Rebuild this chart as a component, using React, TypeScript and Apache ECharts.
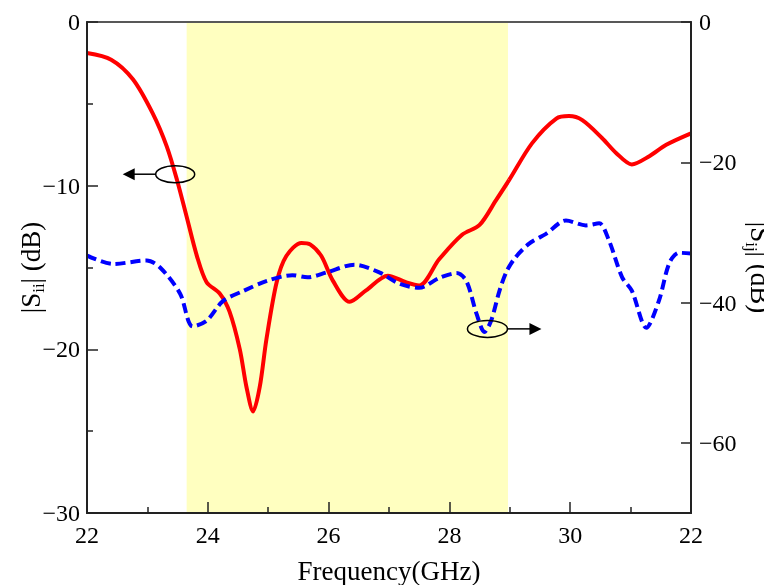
import React, { useEffect, useRef } from 'react';
import * as echarts from 'echarts';

// |Sii| (left axis, dB) — frequency in GHz
const redData: [number, number][] = [
  [22.0, -1.9], [22.4, -2.3], [22.76, -3.5], [23.09, -5.6], [23.32, -7.6], [23.49, -9.65],
  [23.65, -11.9], [23.82, -14.3], [23.98, -15.9], [24.2, -16.6], [24.36, -17.7], [24.53, -20.0],
  [24.64, -22.3], [24.75, -23.8], [24.86, -22.3], [24.97, -19.4], [25.14, -15.9], [25.3, -14.3],
  [25.55, -13.5], [25.7, -13.6], [25.88, -14.3], [26.07, -15.8], [26.35, -17.1], [26.62, -16.4],
  [26.98, -15.5], [27.28, -15.9], [27.5, -16.1], [27.83, -14.5], [28.21, -13.0], [28.5, -12.4],
  [28.77, -10.9], [28.99, -9.65], [29.37, -7.4], [29.77, -5.9], [29.98, -5.75], [30.2, -6.0],
  [30.53, -7.1], [30.76, -8.0], [31.02, -8.7], [31.31, -8.2], [31.59, -7.5], [32.0, -6.8],
];

// |Sij| (right axis, dB)
const blueData: [number, number][] = [
  [22.0, -33.3], [22.43, -34.5], [22.99, -34.0], [23.21, -35.0], [23.54, -38.7], [23.75, -43.4],
  [23.98, -42.6], [24.25, -39.8], [24.6, -38.3], [24.98, -36.9], [25.4, -36.1], [25.65, -36.4],
  [25.97, -35.7], [26.43, -34.6], [26.84, -35.7], [27.17, -37.3], [27.5, -37.9], [27.83, -36.5],
  [28.12, -35.8], [28.28, -36.9], [28.45, -41.6], [28.58, -44.2], [28.69, -42.6], [28.83, -38.3],
  [28.95, -35.5], [29.1, -33.5], [29.32, -31.6], [29.6, -30.2], [29.93, -28.3], [30.26, -29.0],
  [30.48, -28.7], [30.64, -31.1], [30.86, -36.4], [31.02, -38.3], [31.26, -43.6], [31.47, -39.7],
  [31.64, -34.4], [31.8, -32.9], [32.0, -33.0],
];

const band: [number, number] = [23.65, 28.97];
const rightTicks = [0, -20, -40, -60];
// annotation anchors: [freq, left-axis dB]
const leftMarker: [number, number] = [23.46, -9.3];
const rightMarker: [number, number] = [28.63, -18.75];

const FONT = "'Liberation Serif', 'Times New Roman', serif";
const AX = '#222';

const minus = (v: number) => String(v).replace('-', '\u2212');

export default function App() {
  const ref = useRef<HTMLDivElement>(null);
  useEffect(() => {
    if (!ref.current) return;
    const chart = echarts.init(ref.current, undefined, { renderer: 'svg' });
    const labelStyle = { fontFamily: FONT, fontSize: 24, color: '#000' };
    const nameStyle = {
      fontFamily: FONT,
      fontSize: 27,
      color: '#000',
      rich: { sub: { fontFamily: FONT, fontSize: 17, color: '#000', padding: [16, 0, 0, 0] } },
    };
    chart.setOption({
      animation: false,
      grid: {
        left: 87, right: 73, top: 22, bottom: 72,
        outerBoundsMode: 'none', containLabel: false,
        show: true, borderColor: AX, borderWidth: 1.5, backgroundColor: 'transparent',
      },
      xAxis: {
        type: 'value', min: 22, max: 32, interval: 2, z: 5,
        axisLine: { onZero: false, lineStyle: { color: AX, width: 2 } },
        axisTick: { inside: true, length: 11, lineStyle: { color: AX, width: 1.5 } },
        minorTick: { show: true, splitNumber: 2, length: 6, lineStyle: { color: AX, width: 1.5 } },
        splitLine: { show: false },
        axisLabel: { ...labelStyle, margin: 10, formatter: (v: number) => (v === 32 ? '22' : String(v)) },
        name: 'Frequency(GHz)', nameLocation: 'middle', nameGap: 44, nameMoveOverlap: false,
        nameTextStyle: { ...labelStyle, fontSize: 27 },
      },
      yAxis: [
        {
          type: 'value', min: -30, max: 0, interval: 10, z: 5,
          axisLine: { show: true, onZero: false, lineStyle: { color: AX, width: 2 } },
          axisTick: { inside: true, length: 11, lineStyle: { color: AX, width: 1.5 } },
          minorTick: { show: true, splitNumber: 2, length: 6, lineStyle: { color: AX, width: 1.5 } },
          splitLine: { show: false },
          axisLabel: { ...labelStyle, margin: 7, formatter: minus },
          name: '|S{sub|ii}| (dB)', nameLocation: 'middle', nameGap: 40, nameMoveOverlap: false,
          nameTextStyle: nameStyle,
        },
        {
          type: 'value', min: -70, max: 0, position: 'right', z: 5,
          axisLine: { show: true, onZero: false, lineStyle: { color: AX, width: 2 } },
          axisTick: { inside: true, length: 10, customValues: rightTicks, lineStyle: { color: AX, width: 1.5 } },
          splitLine: { show: false },
          axisLabel: { ...labelStyle, margin: 8, customValues: rightTicks, formatter: minus },
          name: '|S{sub|ij}| (dB)', nameLocation: 'middle', nameGap: 52, nameRotate: -90, nameMoveOverlap: false,
          nameTextStyle: nameStyle,
        },
      ],
      series: [
        {
          type: 'line', xAxisIndex: 0, yAxisIndex: 0, data: redData, smooth: 0.3, symbol: 'none', z: 3,
          lineStyle: { color: '#ff0000', width: 4 },
          markArea: {
            silent: true,
            itemStyle: { color: '#ffffc0' },
            data: [[{ xAxis: band[0], yAxis: -30 }, { xAxis: band[1], yAxis: -0.06 }]],
          },
        },
        {
          type: 'line', xAxisIndex: 0, yAxisIndex: 1, data: blueData, smooth: 0.3, symbol: 'none', z: 4,
          lineStyle: { color: '#0000ff', width: 4, type: [10, 5] },
        },
      ],
    });

    const pl = chart.convertToPixel({ xAxisIndex: 0, yAxisIndex: 0 }, leftMarker) as number[];
    const pr = chart.convertToPixel({ xAxisIndex: 0, yAxisIndex: 0 }, rightMarker) as number[];
    const stroke = { stroke: '#000', lineWidth: 1.5, fill: 'none' };
    const rx = 19.5, ry = 8.5;
    chart.setOption({
      graphic: [
        { type: 'ellipse', shape: { cx: pl[0], cy: pl[1], rx, ry }, style: stroke, z: 10 },
        { type: 'line', shape: { x1: pl[0] - rx, y1: pl[1], x2: pl[0] - rx - 22, y2: pl[1] }, style: { stroke: '#000', lineWidth: 1.5 }, z: 10 },
        {
          type: 'polygon', z: 10,
          shape: { points: [[pl[0] - rx - 33, pl[1]], [pl[0] - rx - 21, pl[1] - 6], [pl[0] - rx - 21, pl[1] + 6]] },
          style: { fill: '#000' },
        },
        { type: 'ellipse', shape: { cx: pr[0], cy: pr[1], rx: 20, ry }, style: stroke, z: 10 },
        { type: 'line', shape: { x1: pr[0] + 20, y1: pr[1], x2: pr[0] + 43, y2: pr[1] }, style: { stroke: '#000', lineWidth: 1.5 }, z: 10 },
        {
          type: 'polygon', z: 10,
          shape: { points: [[pr[0] + 54, pr[1]], [pr[0] + 42, pr[1] - 6], [pr[0] + 42, pr[1] + 6]] },
          style: { fill: '#000' },
        },
      ],
    });
    return () => chart.dispose();
  }, []);
  return <div ref={ref} style={{ position: 'fixed', left: 0, top: 0, width: 764, height: 585 }} />;
}
